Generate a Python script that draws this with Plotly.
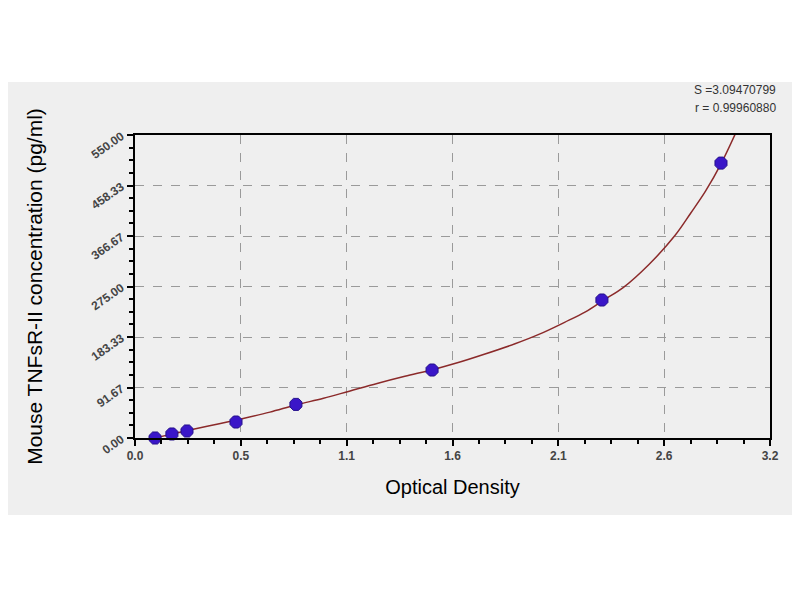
import plotly.graph_objects as go

# standards: optical density vs concentration
od = [0.101, 0.186, 0.262, 0.509, 0.811, 1.497, 2.353, 2.953]
conc = [0.0, 7.3, 12.7, 29.0, 61.0, 123.4, 250.5, 499.0]

# fitted curve
fit_od = [0.10, 0.19, 0.27, 0.40, 0.54, 0.68, 0.81, 0.95, 1.08, 1.22, 1.36, 1.50,
          1.62, 1.76, 1.915, 2.035, 2.165, 2.27, 2.36, 2.46, 2.59, 2.72, 2.80, 2.875,
          2.955, 3.03]
fit_conc = [0.0, 7.5, 14.0, 24.0, 35.0, 47.0, 60.0, 72.0, 85.0, 99.0, 112.0, 124.0,
            136.0, 152.0, 171.0, 188.0, 210.0, 229.0, 250.0, 273.0, 315.0, 367.0,
            408.0, 448.0, 499.0, 556.0]

x_tickvals = [0.0, 3.2 / 6, 6.4 / 6, 1.6, 12.8 / 6, 16 / 6, 3.2]
x_ticktext = ["0.0", "0.5", "1.1", "1.6", "2.1", "2.6", "3.2"]
y_tickvals = [0.0, 550 / 6, 1100 / 6, 275.0, 2200 / 6, 2750 / 6, 550.0]
y_ticktext = ["0.00", "91.67", "183.33", "275.00", "366.67", "458.33", "550.00"]

font = "Liberation Sans, Arial, sans-serif"

fig = go.Figure()
fig.add_trace(go.Scatter(x=fit_od, y=fit_conc, mode="lines",
                         line=dict(color="#8b2a2a", width=1.5, shape="spline"),
                         hoverinfo="skip"))
fig.add_trace(go.Scatter(x=od, y=conc, mode="markers", cliponaxis=False,
                         marker=dict(symbol="octagon", size=13, color="#3a16c8",
                                     line=dict(color="#24108a", width=1))))

axis_common = dict(showline=True, linecolor="black", linewidth=2, mirror=True,
                   ticks="outside", ticklen=6, tickwidth=1.5, tickcolor="black",
                   showgrid=True, gridcolor="#9a9a9a", griddash="dash", gridwidth=1,
                   zeroline=False, tickmode="array",
                   tickfont=dict(family=font, size=12, color="#444444", weight="bold"))

fig.update_xaxes(range=[0, 3.2], tickvals=x_tickvals, ticktext=x_ticktext,
                 minor=dict(dtick=0.8 / 6, ticks="outside", ticklen=4,
                            tickcolor="black", showgrid=False),
                 title=dict(text="Optical Density", standoff=18,
                            font=dict(family=font, size=20, color="black")),
                 **axis_common)
fig.update_yaxes(range=[0, 550], tickvals=y_tickvals, ticktext=y_ticktext,
                 tickangle=-35, ticklabelstandoff=3,
                 minor=dict(dtick=550 / 24, ticks="outside", ticklen=4,
                            tickcolor="black", showgrid=False),
                 title=dict(text="Mouse TNFsR-II concentration (pg/ml)", standoff=40,
                            font=dict(family=font, size=21, color="black")),
                 **axis_common)

fig.add_shape(type="rect", xref="paper", yref="paper", x0=-0.22, x1=1.06,
              y0=-0.254, y1=1.175, fillcolor="#efefef", line_width=0, layer="below")

fig.add_annotation(xref="paper", yref="paper", x=1.0126, y=1.149, xanchor="right",
                   yanchor="middle", showarrow=False, text="S =3.09470799",
                   font=dict(family=font, size=12, color="#333333"))
fig.add_annotation(xref="paper", yref="paper", x=1.0126, y=1.089, xanchor="right",
                   yanchor="middle", showarrow=False, text="r = 0.99960880",
                   font=dict(family=font, size=12, color="#333333"))

fig.update_layout(width=800, height=600, showlegend=False,
                  paper_bgcolor="white", plot_bgcolor="white",
                  margin=dict(l=127, r=38, t=127, b=170))

fig.write_html("out.html")
